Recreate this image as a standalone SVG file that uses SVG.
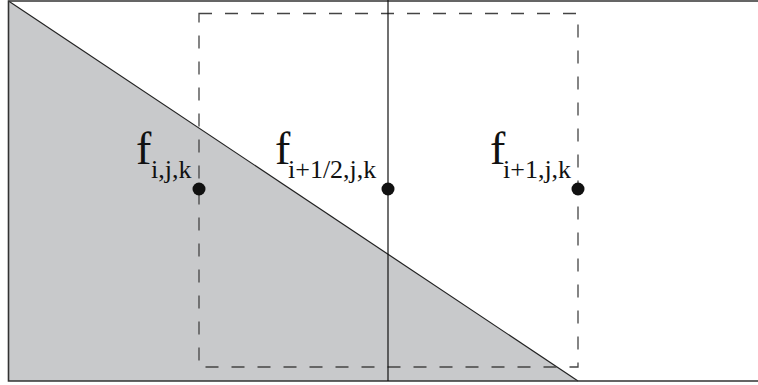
<svg xmlns="http://www.w3.org/2000/svg" width="758" height="385" viewBox="0 0 758 385">
<style>
.frame{fill:none;stroke:#333;stroke-width:1.6}
.dash{fill:none;stroke:#444;stroke-width:1.3;stroke-dasharray:13 13}
.dot{fill:#111}
.f{font-family:"Liberation Serif",serif;font-size:46px;fill:#111}
.sub{font-family:"Liberation Serif",serif;font-size:26px;fill:#111}
</style>
<rect x="0" y="0" width="758" height="385" fill="#fff"/>
<g id="fluid">
<polygon points="8.5,1 578,381 8.5,381" fill="#c8c9cb"/>
<line x1="8.5" y1="1" x2="578" y2="381" stroke="#222" stroke-width="1.2"/>
</g>
<g id="frame">
<polyline class="frame" points="758,1 8.5,1 8.5,381 758,381"/>
</g>
<g id="cell">
<rect class="dash" x="199" y="13.5" width="379" height="353.5"/>
</g>
<g id="connectors">
<line x1="388" y1="0" x2="388" y2="381" stroke="#111" stroke-width="1.2"/>
</g>
<g id="node-f-ijk">
<circle class="dot" cx="199" cy="189" r="6.5"/>
<text class="f" x="136" y="164">f</text>
<text class="sub" x="151" y="178">i,j,k</text>
</g>
<g id="node-f-half">
<circle class="dot" cx="388" cy="189" r="6.5"/>
<text class="f" x="275" y="164">f</text>
<text class="sub" x="288" y="178">i+1/2,j,k</text>
</g>
<g id="node-f-i1">
<circle class="dot" cx="578" cy="189" r="6.5"/>
<text class="f" x="490" y="164">f</text>
<text class="sub" x="503" y="178">i+1,j,k</text>
</g>
</svg>
